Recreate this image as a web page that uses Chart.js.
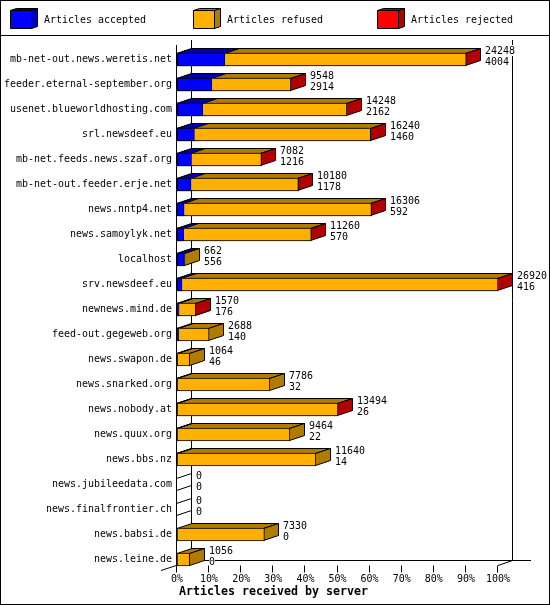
<!DOCTYPE html>
<html>
<head>
<meta charset="utf-8">
<title>Articles received by server</title>
<script src="https://cdn.jsdelivr.net/npm/chart.js@4/dist/chart.umd.min.js"></script>
<style>
  html, body { margin: 0; padding: 0; background: #fff; }
  canvas { display: block; }
</style>
</head>
<body>
<canvas id="graphicServers" width="550" height="605"></canvas>
<script>
const hosts = [
  "mb-net-out.news.weretis.net", "feeder.eternal-september.org", "usenet.blueworldhosting.com",
  "srl.newsdeef.eu", "mb-net.feeds.news.szaf.org", "mb-net-out.feeder.erje.net", "news.nntp4.net",
  "news.samoylyk.net", "localhost", "srv.newsdeef.eu", "newnews.mind.de", "feed-out.gegeweb.org",
  "news.swapon.de", "news.snarked.org", "news.nobody.at", "news.quux.org", "news.bbs.nz",
  "news.jubileedata.com", "news.finalfrontier.ch", "news.babsi.de", "news.leine.de",
];
const accepted = [4004, 2914, 2162, 1460, 1216, 1178, 592, 570, 556, 416, 176, 140, 46, 32, 26, 22, 14, 0, 0, 0, 0];
const refused = [24248, 9548, 14248, 16240, 7082, 10180, 16306, 11260, 662, 26920, 1570, 2688, 1064, 7786, 13494, 9464, 11640, 0, 0, 7330, 1056];
const rejected = [24248, 9548, 14248, 16240, 7082, 10180, 16306, 11260, 0, 26920, 1570, 0, 0, 0, 13494, 0, 0, 0, 0, 0, 0];
const tickLabels = ["0%", "10%", "20%", "30%", "40%", "50%", "60%", "70%", "80%", "90%", "100%"];
const scaleMax = 26920;

const FONT = '9.97px "DejaVu Sans Mono"';
const BOLD = 'bold 11.65px "DejaVu Sans Mono"';
const DX = 15, DY = 5;

function poly(ctx, pts, fill) {
  ctx.beginPath();
  pts.forEach((p, i) => (i ? ctx.lineTo(p[0], p[1]) : ctx.moveTo(p[0], p[1])));
  ctx.closePath();
  if (fill) {
    ctx.fillStyle = fill;
    ctx.fill();
  }
  ctx.stroke();
}

function line(ctx, x1, y1, x2, y2) {
  ctx.beginPath();
  ctx.moveTo(x1, y1);
  ctx.lineTo(x2, y2);
  ctx.stroke();
}

// walls, legend and frame go under the bars
const frame = {
  id: "frame",
  beforeDatasetsDraw(chart) {
    const { ctx, scales: { x } } = chart;
    const left = x.getPixelForValue(0), right = x.getPixelForValue(scaleMax);
    const floor = 565.5, back = 560.5;
    ctx.save();
    ctx.strokeStyle = "#000";
    ctx.lineWidth = 1;
    ctx.strokeRect(0.5, 0.5, 549, 604);
    line(ctx, 0, 35.5, 550, 35.5);

    // legend boxes
    const boxes = [[10, 0, "#0000ff", "#0000b0"], [193, 1, "#ffb000", "#b07c00"], [377, 2, "#ff0000", "#b00000"]];
    boxes.forEach(([bx, i, face, dark]) => {
      const t = 10.5, b = 28.5, r = bx + 21.5, l = bx + 0.5;
      poly(ctx, [[l, t], [l + 6, t - 2], [r + 6, t - 2], [r, t]], dark);
      poly(ctx, [[r, t], [r + 6, t - 2], [r + 6, b - 2], [r, b]], dark);
      poly(ctx, [[l, t], [r, t], [r, b], [l, b]], face);
      ctx.fillStyle = "#000";
      ctx.font = FONT;
      ctx.textBaseline = "middle";
      ctx.textAlign = "left";
      ctx.fillText(chart.data.datasets[i].label, bx + 34, 20);
    });

    // axes
    line(ctx, left - 0.5, 45, left - 0.5, floor);
    line(ctx, left + DX - 0.5, 40, left + DX - 0.5, back);
    line(ctx, right + DX - 0.5, 40, right + DX - 0.5, back);
    line(ctx, left + DX - 0.5, back, 531, back);
    line(ctx, left - 16, floor + 5, left + DX - 0.5, back);
    line(ctx, right, floor, right + DX - 0.5, back);
    x.ticks.forEach((t) => {
      const px = Math.round(x.getPixelForValue(t.value)) - 0.5;
      line(ctx, px, floor, px, floor + 7);
    });

    // depth faces: refused, then the rejected end cap, then accepted top
    const [mAcc, mRef, mRej] = [0, 1, 2].map((i) => chart.getDatasetMeta(i).data);
    hosts.forEach((h, i) => {
      const t = mRef[i].y - 6, b = t + 12;
      const xRef = Math.round(mRef[i].x) - 0.5, xAcc = Math.round(mAcc[i].x) - 0.5;
      if (!refused[i]) {
        line(ctx, left - 0.5, t, left + DX - 0.5, t - DY);
        line(ctx, left - 0.5, b, left + DX - 0.5, b - DY);
        return;
      }
      poly(ctx, [[left, t], [left + DX, t - DY], [xRef + DX, t - DY], [xRef, t]], "#b07c00");
      const cap = rejected[i] ? "#b00000" : "#b07c00";
      const capX = rejected[i] ? Math.round(mRej[i].x) - 0.5 : xRef;
      poly(ctx, [[capX, t], [capX + DX, t - DY], [capX + DX, b - DY], [capX, b]], cap);
      if (accepted[i]) {
        poly(ctx, [[left, t], [left + DX, t - DY], [xAcc + DX, t - DY], [xAcc, t]], "#0000b0");
      }
    });
    ctx.restore();
  },
  afterDatasetsDraw(chart) {
    const { ctx } = chart;
    ctx.save();
    ctx.font = FONT;
    ctx.textAlign = "left";
    ctx.textBaseline = "middle";
    const meta = chart.getDatasetMeta(1).data;
    hosts.forEach((h, i) => {
      const lx = Math.round(meta[i].x) + DX + 4;
      [[refused[i], -9], [accepted[i], 2]].forEach(([v, off]) => {
        const s = String(v), y = Math.round(meta[i].y) + off;
        ctx.fillStyle = "#fff";
        ctx.fillRect(lx, y - 6, s.length * 6, 11);
        ctx.fillStyle = "#000";
        ctx.fillText(s, lx, y);
      });
    });
    ctx.font = BOLD;
    ctx.textAlign = "center";
    ctx.fillText("Articles received by server", 273.5, 592);
    ctx.restore();
  },
};

const graphicServers = document.getElementById("graphicServers");

new Chart(graphicServers, {
  type: "bar",
  data: {
    labels: hosts,
    datasets: [
      { label: "Articles accepted", data: accepted, backgroundColor: "#0000ff", order: 0 },
      { label: "Articles refused", data: refused, backgroundColor: "#ffb000", order: 1 },
      { label: "Articles rejected", data: rejected, backgroundColor: "#ff0000", order: 2 },
    ],
  },
  options: {
    indexAxis: "y",
    responsive: false,
    animation: false,
    events: [],
    layout: { padding: { top: 47, right: 52, left: 0, bottom: 0 } },
    datasets: {
      bar: { grouped: false, barThickness: 13, borderWidth: 1, borderColor: "#000", borderSkipped: false },
    },
    plugins: { legend: { display: false }, tooltip: { enabled: false } },
    scales: {
      x: {
        min: 0,
        max: scaleMax,
        afterFit: (s) => { s.height = 33; },
        grid: { display: false, drawTicks: false },
        border: { display: false },
        ticks: {
          stepSize: scaleMax / 10,
          autoSkip: false,
          maxRotation: 0,
          padding: 1,
          color: "#000",
          font: { family: "DejaVu Sans Mono", size: 9.97 },
          callback: (v, i) => tickLabels[i],
        },
      },
      y: {
        afterFit: (s) => { s.width = 177; },
        grid: { display: false, drawTicks: false },
        border: { display: false },
        ticks: {
          autoSkip: false,
          padding: 5,
          color: "#000",
          font: { family: "DejaVu Sans Mono", size: 9.97 },
        },
      },
    },
  },
  plugins: [frame],
});
</script>
</body>
</html>
